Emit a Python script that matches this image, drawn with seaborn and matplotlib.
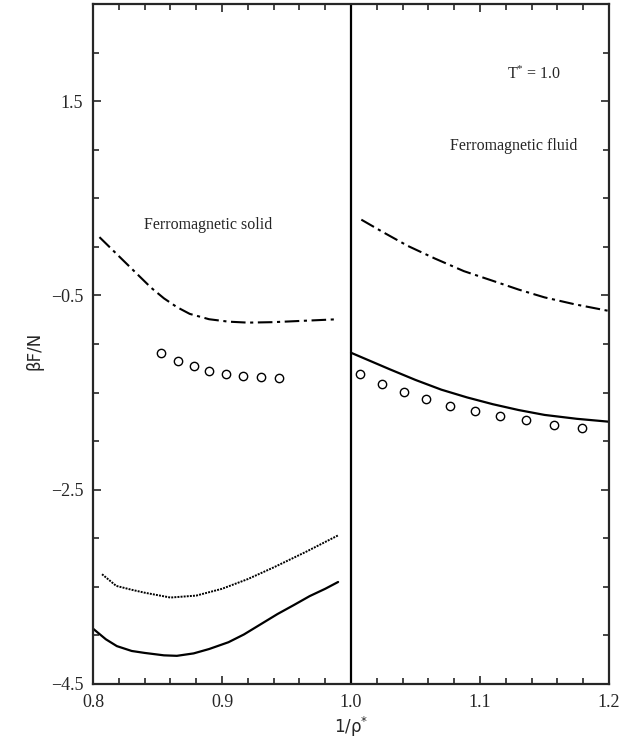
import matplotlib
matplotlib.use("Agg")
import matplotlib.pyplot as plt
from matplotlib.ticker import MultipleLocator, FixedLocator, FixedFormatter
import seaborn as sns
import pandas as pd

# ---- data ----
solid_dashdot_x = [0.805, 0.815, 0.825, 0.835, 0.845, 0.855, 0.865, 0.875, 0.89, 0.905, 0.92, 0.94, 0.965, 0.99]
solid_dashdot_y = [0.10, -0.03, -0.16, -0.29, -0.42, -0.53, -0.62, -0.69, -0.745, -0.77, -0.78, -0.775, -0.76, -0.745]

solid_dotted_x = [0.807, 0.818, 0.83, 0.84, 0.86, 0.88, 0.90, 0.92, 0.94, 0.965, 0.99]
solid_dotted_y = [-3.37, -3.49, -3.53, -3.56, -3.61, -3.59, -3.52, -3.42, -3.30, -3.14, -2.97]

solid_full_x = [0.80, 0.81, 0.8185, 0.83, 0.84, 0.855, 0.865, 0.878, 0.89, 0.905, 0.917, 0.93, 0.943, 0.956, 0.968, 0.98, 0.99]
solid_full_y = [-3.93, -4.04, -4.11, -4.16, -4.18, -4.205, -4.21, -4.185, -4.14, -4.07, -3.99, -3.885, -3.78, -3.685, -3.595, -3.52, -3.45]

solid_sim_x = [0.853, 0.866, 0.878, 0.890, 0.903, 0.9165, 0.930, 0.944]
solid_sim_y = [-1.09, -1.17, -1.23, -1.28, -1.31, -1.33, -1.34, -1.35]

fluid_dashdot_x = [1.008, 1.025, 1.044, 1.065, 1.0875, 1.11, 1.13, 1.15, 1.173, 1.2]
fluid_dashdot_y = [0.28, 0.15, 0.01, -0.12, -0.25, -0.35, -0.44, -0.52, -0.59, -0.66]

fluid_full_x = [1.0, 1.015, 1.03, 1.05, 1.07, 1.09, 1.11, 1.13, 1.15, 1.175, 1.2]
fluid_full_y = [-1.09, -1.175, -1.26, -1.37, -1.47, -1.55, -1.62, -1.68, -1.73, -1.77, -1.80]

fluid_sim_x = [1.007, 1.024, 1.041, 1.0585, 1.077, 1.096, 1.1155, 1.136, 1.157, 1.179]
fluid_sim_y = [-1.31, -1.41, -1.49, -1.57, -1.64, -1.69, -1.74, -1.78, -1.83, -1.86]

x_ticks = [0.8, 0.9, 1.0, 1.1, 1.2]
x_tick_labels = ["0.8", "0.9", "1.0", "1.1", "1.2"]
y_ticks = [-4.5, -2.5, -0.5, 1.5]
y_tick_labels = ["\u22124.5", "\u22122.5", "\u22120.5", "1.5"]

# ---- style ----
sns.set_style("ticks")
plt.rcParams["font.family"] = ["Liberation Serif", "DejaVu Serif"]
plt.rcParams["mathtext.default"] = "regular"

fig = plt.figure(figsize=(6.41, 7.41), dpi=100)
ax = fig.add_axes([93 / 641, 1 - 684 / 741, 516 / 641, 680 / 741])

dashdot = (0, (7, 2.2, 1.5, 2.2))

def draw_line(xs, ys, style, lw=1.5):
    df = pd.DataFrame({"x": xs, "y": ys})
    sns.lineplot(data=df, x="x", y="y", ax=ax, color="black", sort=False,
                 estimator=None, lw=lw)
    ax.lines[-1].set_linestyle(style)

draw_line(solid_dashdot_x, solid_dashdot_y, dashdot)
draw_line(fluid_dashdot_x, fluid_dashdot_y, dashdot)
draw_line(solid_full_x, solid_full_y, "-", 1.6)
draw_line(fluid_full_x, fluid_full_y, "-", 1.6)
draw_line(solid_dotted_x, solid_dotted_y, (0, (1, 0.6)), 1.4)

for xs, ys in [(solid_sim_x, solid_sim_y), (fluid_sim_x, fluid_sim_y)]:
    sns.scatterplot(x=xs, y=ys, ax=ax, marker="o", s=36, facecolor="white",
                    edgecolor="black", linewidth=1.0, zorder=5)

ax.axvline(1.0, color="black", lw=1.6)

ax.set_xlim(0.8, 1.2)
ax.set_ylim(-4.5, 2.5)
ax.xaxis.set_major_locator(FixedLocator(x_ticks))
ax.xaxis.set_major_formatter(FixedFormatter(x_tick_labels))
ax.xaxis.set_minor_locator(MultipleLocator(0.02))
ax.yaxis.set_major_locator(FixedLocator(y_ticks))
ax.yaxis.set_major_formatter(FixedFormatter(y_tick_labels))
ax.yaxis.set_minor_locator(MultipleLocator(0.5))
ax.tick_params(which="both", direction="in", top=True, right=True,
               width=1.2, labelsize=13, pad=7)
ax.tick_params(which="major", length=6)
ax.tick_params(which="minor", length=4)
for sp in ax.spines.values():
    sp.set_linewidth(1.6)

ax.set_xlabel("1/\u03c1$^{*}$", family=["DejaVu Sans"], fontsize=12)
ax.xaxis.set_label_coords(0.5, -0.046)
ax.set_ylabel("\u03b2F/N", family=["DejaVu Sans"], fontsize=12)
ax.yaxis.set_label_coords(-0.095, 0.49)

ax.text(0.889, 0.22, "Ferromagnetic solid", ha="center", va="center", fontsize=11.5)
ax.text(1.126, 1.04, "Ferromagnetic fluid", ha="center", va="center", fontsize=11.5)
ax.text(1.142, 1.78, "T$^{*}$ = 1.0", ha="center", va="center", fontsize=11.5)

fig.savefig("out.png", dpi=100)
